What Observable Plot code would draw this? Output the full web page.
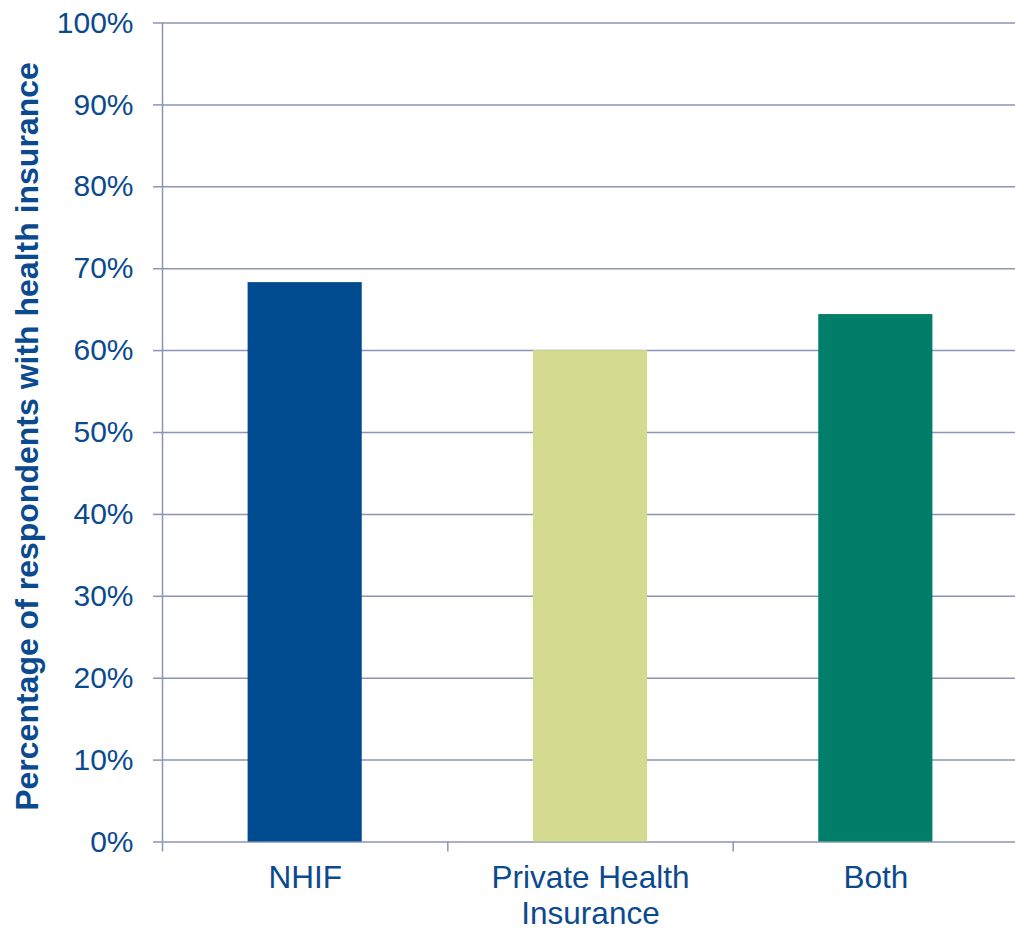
<!DOCTYPE html>
<html><head><meta charset="utf-8">
<script src="https://cdn.jsdelivr.net/npm/d3@7"></script>
<script src="https://cdn.jsdelivr.net/npm/@observablehq/plot@0.6"></script>
<style>html,body{margin:0;padding:0;background:#fff} svg{display:block}</style>
</head><body><div id="chart"></div>
<script>
const categories = ["NHIF", "Private Health\nInsurance", "Both"];
const values = [68.3, 60.0, 64.4];
const barColors = ["#004A8F", "#D4DA8F", "#007E69"];
const yTicks = [0, 10, 20, 30, 40, 50, 60, 70, 80, 90, 100];
const yAxisTitle = "Percentage of respondents with health insurance";

const data = categories.map((c, i) => ({category: c, value: values[i], index: i}));
const boundaries = d3.range(categories.length + 1);
const textColor = "#0B4A8E";
const gridColor = "#8C95B3";

const chart = Plot.plot({
  width: 1015, height: 928,
  marginLeft: 162, marginRight: -3, marginTop: 22.5, marginBottom: 86.5,
  style: {fontFamily: "'Liberation Sans', Arial, sans-serif", background: "#fff"},
  x: {type: "linear", domain: [0, categories.length], axis: null},
  y: {domain: [0, 100], axis: null},
  color: {domain: categories, range: barColors},
  marks: [
    Plot.gridY(yTicks, {stroke: gridColor, strokeOpacity: 1, strokeWidth: 1.5}),
    Plot.axisY(yTicks, {tickSize: 9, tickPadding: 20, stroke: gridColor, strokeWidth: 1.5,
      fill: textColor, fontSize: 30, tickFormat: d => d + "%", label: null}),
    Plot.ruleX([0], {stroke: gridColor, strokeWidth: 1.5}),
    Plot.axisX(boundaries, {tickSize: 10, stroke: gridColor, strokeWidth: 1.5, tickFormat: () => "", label: null}),
    Plot.rectY(data, {x1: d => d.index + 0.3, x2: d => d.index + 0.7, y: "value", fill: "category"}),
    Plot.text(data, {x: d => d.index + 0.5, frameAnchor: "bottom", dy: 20, lineAnchor: "top",
      text: "category", lineHeight: 1.15, fontSize: 31.5, fill: textColor}),
    Plot.text([yAxisTitle], {frameAnchor: "left", dx: -135, dy: 4, rotate: -90, textAnchor: "middle",
      fontSize: 32, fontWeight: "bold", fill: textColor})
  ]
});
document.getElementById("chart").appendChild(chart);
</script>
</body></html>
